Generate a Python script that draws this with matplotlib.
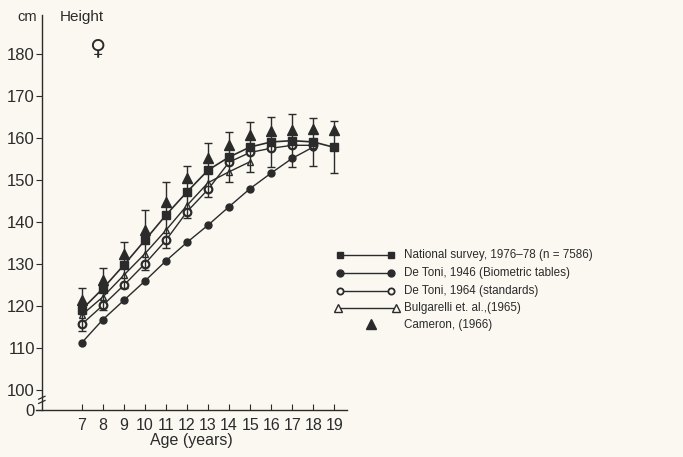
import matplotlib
matplotlib.use("Agg")
import matplotlib.pyplot as plt
from matplotlib.lines import Line2D
import numpy as np

plt.rcParams['font.family'] = ['Liberation Sans', 'DejaVu Sans']

INK = '#2b2b2b'
PAPER = '#faf8f1'

ages = np.arange(7, 20)

# national survey 1976-78: mean and SD (error bars)
nat_mean = [119.2, 124.2, 129.8, 135.7, 141.7, 147.2, 152.4, 155.5, 157.9, 159.1, 159.4, 159.1, 157.8]
nat_sd = [5.2, 5.0, 5.5, 7.1, 7.8, 6.2, 6.4, 6.0, 6.0, 6.0, 6.3, 5.7, 6.2]

ages_dt46 = np.arange(7, 19)
detoni_1946 = [111.3, 116.8, 121.4, 126.0, 130.8, 135.2, 139.3, 143.7, 148.0, 151.7, 155.2, 157.9]

ages_dt64 = np.arange(7, 19)
detoni_1964 = [115.7, 120.2, 125.0, 130.1, 135.7, 142.5, 147.8, 154.3, 156.6, 157.6, 158.3, 158.3]

ages_bulg = np.arange(7, 16)
bulgarelli = [117.9, 122.2, 127.4, 132.5, 138.1, 144.0, 149.4, 152.0, 154.4]

cameron = [121.4, 126.2, 132.5, 138.1, 144.9, 150.4, 155.2, 158.3, 160.7, 161.7, 161.9, 162.1, 161.9]

legend_labels = ['National survey, 1976\u201378 (n = 7586)',
                 'De Toni, 1946 (Biometric tables)',
                 'De Toni, 1964 (standards)',
                 'Bulgarelli et. al.,(1965)',
                 'Cameron, (1966)']

ytick_vals = [100, 110, 120, 130, 140, 150, 160, 170, 180]
y_zero = 95.3  # where the broken axis shows "0"

fig = plt.figure(figsize=(6.83, 4.57), dpi=100, facecolor=PAPER)
ax = fig.add_axes([0.052, 0.103, 0.456, 0.864])
ax.set_facecolor(PAPER)

ax.plot(ages_dt46, detoni_1946, color=INK, lw=1.0, marker='o', ms=5, mfc=INK, mec=INK)
ax.plot(ages_dt64, detoni_1964, color=INK, lw=1.0, marker='o', ms=5.5, mfc=PAPER, mec=INK, mew=1.6)
ax.plot(ages_bulg, bulgarelli, color=INK, lw=1.0, marker='^', ms=5, mfc=PAPER, mec=INK, mew=1.0)
ax.errorbar(ages, nat_mean, yerr=nat_sd, color=INK, lw=1.2, marker='s', ms=5.5, mfc=INK, mec=INK,
            ecolor=INK, elinewidth=1.0, capsize=3, capthick=1.0)
ax.plot(ages[-1], nat_mean[-1], 'o', color=INK, ms=5.5)
ax.plot(ages, cameron, ls='none', marker='^', ms=6.5, color=INK)

ax.set_xlim(4.8, 19.6)
ax.set_ylim(y_zero, 189.3)
ax.spines['left'].set_position(('data', 5.1))
for s in ['top', 'right']:
    ax.spines[s].set_visible(False)
for s in ['left', 'bottom']:
    ax.spines[s].set_color(INK)
    ax.spines[s].set_linewidth(1.0)

ax.set_xticks(ages)
ax.set_xticklabels([str(a) for a in ages], fontsize=11.5, color=INK)
ax.tick_params(axis='x', direction='in', length=4, pad=6, colors=INK)
ax.set_yticks([y_zero] + ytick_vals)
ax.set_yticklabels(['0'] + [str(v) for v in ytick_vals], fontsize=12, color=INK)
ax.tick_params(axis='y', direction='out', length=4, pad=1, colors=INK)
ax.set_xlabel('Age (years)', fontsize=11.5, color=INK, labelpad=0)

# break marks on the y axis between 0 and 100
for yy in (97.2, 98.2):
    ax.plot([4.95, 5.25], [yy - 0.35, yy + 0.35], color=INK, lw=0.9, clip_on=False)

fig.text(0.026, 0.955, 'cm', fontsize=10.5, color=INK, ha='left', va='baseline')
fig.text(0.088, 0.955, 'Height', fontsize=11, color=INK, ha='left', va='baseline')
fig.text(0.142, 0.895, '\u2640', fontsize=16, color=INK, ha='center', va='center',
         family=['DejaVu Sans'])

# legend drawn by hand
px = lambda x: x / 683
py = lambda y: 1 - y / 457
rows = [255, 273, 291, 308, 325]
styles = [dict(marker='s', ms=4.5, mfc=INK),
          dict(marker='o', ms=5, mfc=INK),
          dict(marker='o', ms=4.5, mfc=PAPER, mew=1.3),
          dict(marker='^', ms=5.5, mfc=PAPER, mew=1.0)]
for r, st in zip(rows[:4], styles):
    x0, x1 = (340, 391) if st['marker'] != '^' else (338, 396)
    fig.add_artist(Line2D([px(x0), px(x1)], [py(r), py(r)], color=INK, lw=1.0,
                          mec=INK, transform=fig.transFigure, **st))
fig.add_artist(Line2D([px(371)], [py(rows[4] - 1)], ls='none', marker='^', ms=7,
                      color=INK, transform=fig.transFigure))
for r, lab in zip(rows, legend_labels):
    fig.text(px(404), py(r), lab, fontsize=8.4, color=INK, ha='left', va='center')

fig.savefig('out.png', dpi=100, facecolor=PAPER)
